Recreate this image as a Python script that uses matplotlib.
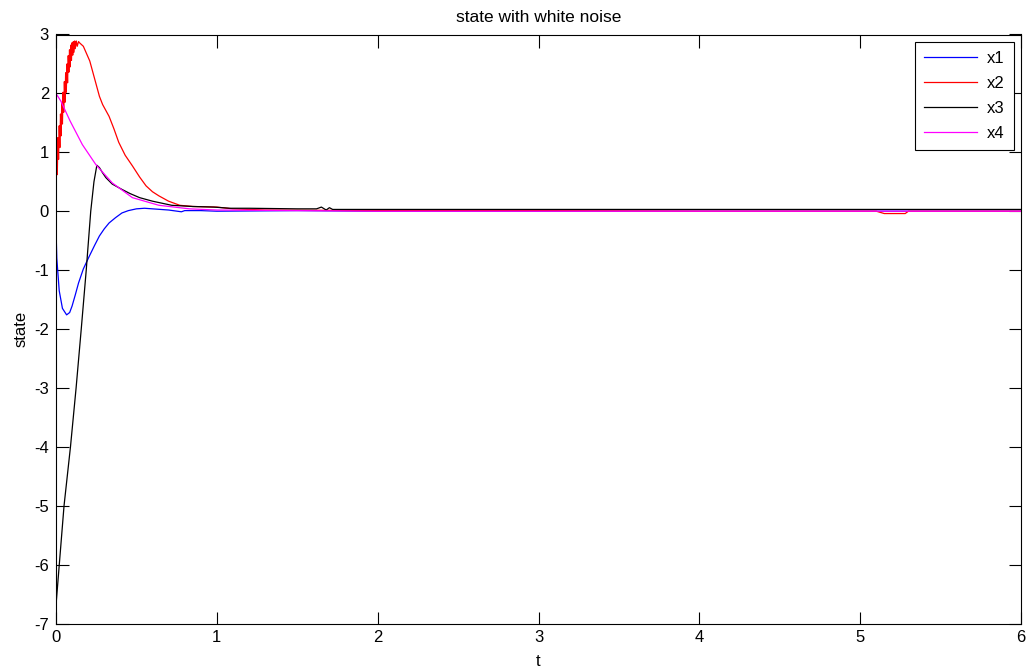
import numpy as np
import matplotlib
matplotlib.use('Agg')
import matplotlib.pyplot as plt

# values (t in seconds)
t1 = [0, 0.005, 0.02, 0.04, 0.066, 0.085, 0.10, 0.12, 0.14, 0.17, 0.206, 0.24, 0.27,
      0.30, 0.33, 0.37, 0.41, 0.45, 0.50, 0.55, 0.60, 0.70, 0.78, 0.80, 0.90, 1.0,
      1.5, 2.0, 3.0, 4.0, 5.0, 6.0]
x1 = [-0.3, -0.8, -1.35, -1.65, -1.76, -1.72, -1.61, -1.42, -1.22, -0.98, -0.77, -0.58,
      -0.42, -0.30, -0.20, -0.11, -0.03, 0.01, 0.04, 0.05, 0.04, 0.02, -0.01, 0.01,
      0.01, 0.0, 0.01, 0.0, 0.0, 0.0, 0.0, 0.0]

# x2 rises with a lot of jitter (noise) up to the peak
t2 = [0, 0.004, 0.008, 0.012, 0.016, 0.020, 0.024, 0.028, 0.032, 0.036, 0.040, 0.044,
      0.048, 0.052, 0.056, 0.060, 0.064, 0.068, 0.072, 0.076, 0.080, 0.084, 0.088, 0.092,
      0.096, 0.100, 0.104, 0.108, 0.112, 0.116, 0.120, 0.126, 0.132, 0.140, 0.146,
      0.17, 0.21, 0.25, 0.27, 0.29, 0.33, 0.36, 0.39, 0.43, 0.475, 0.52, 0.56, 0.60,
      0.64, 0.70, 0.77, 0.85, 1.0, 1.1, 1.3, 2.0, 3.0, 4.0, 5.1, 5.15, 5.28, 5.3, 6.0]
x2 = [0.34, 0.98, 0.62, 1.25, 0.88, 1.45, 1.08, 1.65, 1.28, 1.85, 1.48, 2.02,
      1.68, 2.2, 1.85, 2.35, 2.02, 2.5, 2.18, 2.64, 2.36, 2.74, 2.45, 2.82,
      2.56, 2.86, 2.65, 2.88, 2.7, 2.89, 2.76, 2.89, 2.8, 2.88, 2.86,
      2.80, 2.55, 2.15, 1.95, 1.81, 1.61, 1.40, 1.17, 0.95, 0.77, 0.58, 0.43, 0.33,
      0.26, 0.17, 0.10, 0.08, 0.07, 0.04, 0.02, 0.01, 0.01, 0.0, 0.0, -0.04, -0.04, 0.0, 0.0]

t3 = [0, 0.05, 0.09, 0.125, 0.157, 0.188, 0.216, 0.236, 0.254, 0.27, 0.29, 0.31, 0.35,
      0.41, 0.46, 0.52, 0.60, 0.72, 0.85, 0.98, 1.08, 1.2, 1.5, 1.62, 1.65, 1.68, 1.70,
      1.72, 2.0, 3.0, 4.0, 5.0, 6.0]
x3 = [-6.69, -5.0, -4.0, -3.0, -2.0, -1.0, 0.0, 0.5, 0.78, 0.74, 0.65, 0.57, 0.46,
      0.37, 0.30, 0.23, 0.17, 0.10, 0.08, 0.07, 0.05, 0.05, 0.04, 0.04, 0.07, 0.02, 0.06,
      0.03, 0.03, 0.03, 0.03, 0.03, 0.03]

t4 = [0, 0.03, 0.088, 0.164, 0.248, 0.35, 0.475, 0.64, 0.83, 1.0, 1.5, 2.0, 3.0, 4.0,
      5.0, 6.0]
x4 = [2.0, 1.87, 1.53, 1.13, 0.79, 0.48, 0.23, 0.10, 0.04, 0.02, 0.01, 0.0, 0.0, 0.0,
      0.0, 0.0]

series = [('x1', t1, x1, '#0000ff'), ('x2', t2, x2, '#ff0000'),
          ('x3', t3, x3, '#000000'), ('x4', t4, x4, '#ff00ff')]

plt.rcParams['font.family'] = ['Liberation Sans', 'DejaVu Sans']
plt.rcParams['axes.unicode_minus'] = False

fig = plt.figure(figsize=(10.26, 6.72), dpi=100)
ax = fig.add_axes([56 / 1026, 1 - 623.5 / 672, (1021 - 56) / 1026, (623.5 - 34.5) / 672])

for name, t, x, c in series:
    ax.plot(t, x, color=c, lw=0.9, label=name)

ax.set_xlim(0, 6)
ax.set_ylim(-7, 3)
ax.set_xticks(np.arange(0, 7, 1))
ax.set_yticks(np.arange(-7, 4, 1))
ax.tick_params(direction='in', length=9, width=0.8, top=True, right=True,
               labelsize=12, pad=5)
for s in ax.spines.values():
    s.set_linewidth(0.8)

ax.set_title('state with white noise', fontsize=12.5, pad=9)
ax.set_xlabel('t', fontsize=12, labelpad=6)
ax.set_ylabel('state', fontsize=12, labelpad=4)

leg = ax.legend(loc='upper right', fontsize=12, fancybox=False, framealpha=1,
                edgecolor='black', handlelength=3.2, borderaxespad=0.45,
                labelspacing=0.6, handletextpad=0.55, borderpad=0.55)
leg.get_frame().set_linewidth(0.8)

fig.savefig('out.png', dpi=100)
